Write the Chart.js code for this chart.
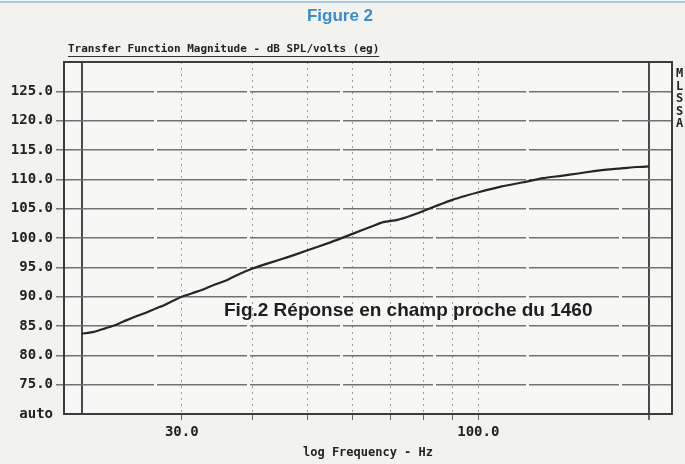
<!DOCTYPE html>
<html>
<head>
<meta charset="utf-8">
<script src="https://cdn.jsdelivr.net/npm/chart.js@4.4.1/dist/chart.umd.min.js"></script>
<style>
  body { margin: 0; background: #f2f2ef; }
  canvas { display: block; }
</style>
</head>
<body>
<canvas id="myChart" width="685" height="464"></canvas>
<script>
// near field response
var freqs = [20, 21, 22, 23, 24, 25, 26, 27, 28, 30, 32, 34, 36, 38, 40, 43, 46, 50, 55, 60,
             65, 68, 72, 76, 80, 85, 90, 95, 100, 110, 120, 130, 140, 150, 160, 170, 180, 190, 200];
var dbs = [83.7, 84.0, 84.6, 85.2, 86.0, 86.7, 87.3, 88.0, 88.6, 90.0, 90.9, 91.9, 92.8, 93.9, 94.8, 95.8, 96.7, 97.9, 99.3, 100.7,
           102.0, 102.7, 103.1, 103.8, 104.6, 105.6, 106.5, 107.2, 107.8, 108.8, 109.5, 110.2, 110.6, 111.0, 111.4, 111.7, 111.9, 112.1, 112.2];

var xTicks = [20, 30, 40, 50, 60, 70, 80, 90, 100, 200];
var xLabels = {30: '30.0', 100: '100.0'};
var yMin = 70, yMax = 130, yStep = 5;

var figTitle = 'Figure 2';
var plotTitle = 'Transfer Function Magnitude - dB SPL/volts (eg)';
var xTitle = 'log Frequency - Hz';
var note = 'Fig.2 Réponse en champ proche du 1460';
var sideLetters = ['M', 'L', 'S', 'S', 'A'];

var mono = '"DejaVu Sans Mono", monospace';

// paper background, titles, frame and the side letters
var decor = {
  id: 'decor',
  beforeDraw: function(chart) {
    var c = chart.ctx;
    c.save();
    c.fillStyle = '#f2f2ef';
    c.fillRect(0, 0, chart.width, chart.height);
    c.fillStyle = '#f7f7f5';
    var a = chart.chartArea;
    c.fillRect(a.left, a.top, a.right - a.left, a.bottom - a.top);
    c.strokeStyle = '#a9c8e2';
    c.lineWidth = 2;
    c.beginPath(); c.moveTo(0, 2); c.lineTo(chart.width, 2); c.stroke();
    c.restore();
  },
  afterDraw: function(chart) {
    var c = chart.ctx;
    var a = chart.chartArea;
    c.save();
    c.strokeStyle = '#3c3c3c';
    c.lineWidth = 2;
    c.strokeRect(a.left, a.top, a.right - a.left, a.bottom - a.top);

    c.fillStyle = '#3b8bd0';
    c.font = 'bold 17px "Liberation Sans", Arial, sans-serif';
    c.textAlign = 'center';
    c.textBaseline = 'middle';
    c.fillText(figTitle, 340, 16);

    c.fillStyle = '#222';
    c.font = 'bold 11px ' + mono;
    c.textAlign = 'left';
    c.fillText(plotTitle, 68, 49);
    var w = c.measureText(plotTitle).width;
    c.strokeStyle = '#333';
    c.lineWidth = 1;
    c.beginPath(); c.moveTo(68, 56.5); c.lineTo(68 + w, 56.5); c.stroke();

    c.font = 'bold 12px ' + mono;
    for (var i = 0; i < sideLetters.length; i++) {
      c.fillText(sideLetters[i], 676, 74 + i * 12.5);
    }

    c.fillStyle = '#1e1e1e';
    c.font = 'bold 19px "Liberation Sans", Arial, sans-serif';
    c.fillText(note, 224, 311);
    c.restore();
  }
};

var ctx = document.getElementById('myChart').getContext('2d');
var myChart = new Chart(ctx, {
  type: 'line',
  data: {
    datasets: [{
      data: freqs.map(function(f, i) { return {x: f, y: dbs[i]}; }),
      borderColor: '#262626',
      borderWidth: 2.2,
      pointRadius: 0,
      tension: 0.2,
      fill: false
    }]
  },
  options: {
    responsive: false,
    animation: false,
    devicePixelRatio: 1,
    layout: { padding: { top: 62, right: 13, left: 0, bottom: 0 } },
    plugins: { legend: { display: false }, tooltip: { enabled: false } },
    scales: {
      x: {
        type: 'logarithmic',
        min: 18.6,
        max: 219.5,
        afterBuildTicks: function(scale) {
          scale.ticks = xTicks.map(function(v) { return {value: v}; });
        },
        afterFit: function(scale) { scale.height = 50; },
        ticks: {
          autoSkip: false,
          maxRotation: 0,
          padding: 4,
          color: '#222',
          font: { family: mono, size: 14, weight: 'bold' },
          callback: function(v) { return xLabels[v] || ''; }
        },
        grid: {
          color: function(c) {
            var v = c.tick && c.tick.value;
            return (v == 20 || v == 200) ? '#4a4a4a' : '#9c9c9c';
          },
          lineWidth: function(c) {
            var v = c.tick && c.tick.value;
            return (v == 20 || v == 200) ? 2 : 1;
          },
          tickColor: function(c) {
            var v = c.tick && c.tick.value;
            return v == 20 ? 'rgba(0,0,0,0)' : '#666';
          },
          tickLength: 6
        },
        border: {
          display: false,
          dash: function(c) {
            var v = c.tick && c.tick.value;
            return (v == 20 || v == 200) ? [] : [2, 4];
          }
        },
        title: {
          display: true,
          text: xTitle,
          color: '#222',
          padding: { top: 0, bottom: 4 },
          font: { family: mono, size: 12, weight: 'bold' }
        }
      },
      y: {
        min: yMin,
        max: yMax,
        afterFit: function(scale) { scale.width = 64; },
        ticks: {
          stepSize: yStep,
          padding: 3,
          color: '#222',
          font: { family: mono, size: 14, weight: 'bold' },
          callback: function(v) {
            if (v == yMin) return 'auto';
            if (v == yMax) return '';
            return v.toFixed(1);
          }
        },
        grid: {
          color: function(c) {
            var v = c.tick && c.tick.value;
            return (v == yMin || v == yMax) ? 'rgba(0,0,0,0)' : '#727272';
          },
          tickColor: function(c) {
            var v = c.tick && c.tick.value;
            return (v == yMin || v == yMax) ? 'rgba(0,0,0,0)' : '#777';
          },
          lineWidth: 1.5,
          tickLength: 8
        },
        border: { display: false, dash: [90, 3] }
      }
    }
  },
  plugins: [decor]
});
</script>
</body>
</html>
